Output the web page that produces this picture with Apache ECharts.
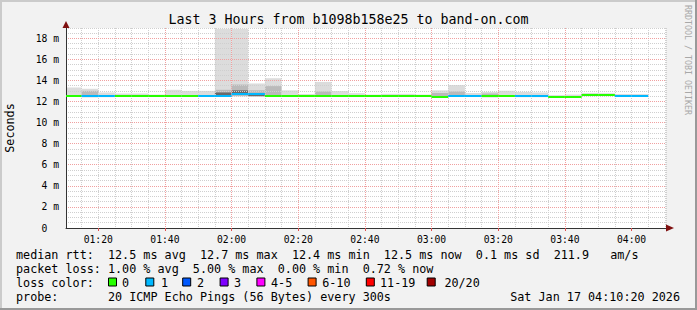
<!DOCTYPE html>
<html><head><meta charset="utf-8">
<script src="https://cdn.jsdelivr.net/npm/echarts@6/dist/echarts.min.js"></script>
<style>html,body{margin:0;padding:0;background:#f2f2f2;}#c{width:697px;height:310px;}</style>
</head><body><div id="c"></div>
<script>
// ---- data ----
const timeStart = '01:10:20';
const timeEnd = '04:10:20';
const stepMinutes = 5;
const stepEnds = ['01:15','01:20','01:25','01:30','01:35','01:40','01:45','01:50','01:55','02:00',
  '02:05','02:10','02:15','02:20','02:25','02:30','02:35','02:40','02:45','02:50',
  '02:55','03:00','03:05','03:10','03:15','03:20','03:25','03:30','03:35','03:40',
  '03:45','03:50','03:55','04:00','04:05'];
const medianMs = [12.55,12.5,12.5,12.55,12.55,12.55,12.55,12.55,12.55,12.55,
  12.7,12.75,12.55,12.55,12.55,12.55,12.55,12.55,12.55,12.55,
  12.55,12.55,12.45,12.55,12.55,12.5,12.55,12.5,12.5,12.45,
  12.45,12.6,12.6,12.55,12.55];
const lossPings = [0,1,1,0,0,0,0,0,1,1,
  1,1,0,0,0,0,0,0,0,0,
  0,0,0,1,1,0,0,1,1,0,
  0,0,0,1,1];
const smokeLo = [12.45,12.4,12.4,12.45,12.45,12.45,12.45,12.45,12.45,12.45,
  12.5,12.5,12.45,12.45,12.45,12.45,12.45,12.45,12.45,12.45,
  12.45,12.45,12.35,12.45,12.45,12.4,12.45,12.4,12.4,12.35,
  12.35,12.5,12.5,12.45,12.45];
const smokeHi = [13.32,13.2,12.85,12.75,12.75,12.65,13.1,13.0,13.0,18.9,
  18.9,13.7,14.2,13.05,12.7,13.85,12.98,12.78,12.65,12.72,
  12.72,12.65,13.05,13.55,12.8,12.9,13.0,12.9,12.85,12.6,
  12.65,12.8,12.78,12.7,12.7];
const midHi = [null,13.0,null,null,null,null,null,null,null,13.1,
  13.6,13.05,13.45,null,null,12.95,null,null,null,null,
  null,null,12.8,12.95,null,12.75,null,null,null,null,
  null,null,null,null,null];
const darkLo = [null,null,null,null,null,null,null,null,null,12.6,
  12.8,12.5,null,null,null,null,null,null,null,null,
  null,null,null,null,null,null,null,null,null,null,
  null,null,null,null,null];
const darkHi = [null,null,null,null,null,null,null,null,null,12.85,
  13.05,12.65,null,null,null,null,null,null,null,null,
  null,null,null,null,null,null,null,null,null,null,
  null,null,null,null,null];
const xTickLabels = ['01:20','01:40','02:00','02:20','02:40','03:00','03:20','03:40','04:00'];
const yMax = 18.96;
const lossBuckets = ['0','1','2','3','4-5','6-10','11-19','20/20'];
const lossBucketMax = [0,1,2,3,5,10,19,20];
const lossColors = ['#26ff00','#00b8ff','#0059ff','#7e00ff','#ff00ff','#ff5500','#ff0000','#a10000'];
const titleText = 'Last 3 Hours from b1098b158e25 to band-on.com';
const yAxisTitle = 'Seconds';
const lineRtt = 'median rtt:  12.5 ms avg  12.7 ms max  12.4 ms min  12.5 ms now  0.1 ms sd  211.9   am/s';
const lineLoss = 'packet loss: 1.00 % avg  5.00 % max  0.00 % min  0.72 % now';
const lineLossColor = 'loss color:';
const lineProbe = 'probe:       20 ICMP Echo Pings (56 Bytes) every 300s';
const dateText = 'Sat Jan 17 04:10:20 2026';
const watermark = 'RRDTOOL / TOBI OETIKER';

// ---- helpers ----
function toMin(s){ const p = s.split(':').map(Number); return p[0]*60 + p[1] + (p[2]||0)/60; }
function fmtMin(v){ const h = Math.floor(v/60 + 1e-6); const m = Math.round(v - h*60); return String(h).padStart(2,'0')+':'+String(m).padStart(2,'0'); }
function lossColor(n){ for (let i=0;i<lossBucketMax.length;i++){ if (n <= lossBucketMax[i]) return lossColors[i]; } return lossColors[lossColors.length-1]; }
const xMin = toMin(timeStart), xMax = toMin(timeEnd);
const FONT = '"DejaVu Sans Mono", monospace';

const smokeData = stepEnds.map((e,i)=>[toMin(e), smokeLo[i], smokeHi[i]]);
const medianData = stepEnds.map((e,i)=>[toMin(e), medianMs[i], lossPings[i]]);

function rectBetween(api, t0, t1, lo, hi, fill){
  const a = api.coord([t0, hi]); const b = api.coord([t1, lo]);
  return {type:'rect', shape:{x:a[0], y:a[1], width:b[0]-a[0], height:b[1]-a[1]}, style:{fill:fill}};
}

const chart = echarts.init(document.getElementById('c'), null, {renderer:'svg', width:697, height:310});

const legendGraphics = [];
const boxX = [108,145.3,182.2,219.6,256.4,307.6,365.8,426.7];
const labX = [122,161,197,234,271,322.2,380,444.4];
lossBuckets.forEach((lab,i)=>{
  legendGraphics.push({type:'rect', left:boxX[i], top:277.5, shape:{x:0,y:0,width:8,height:8}, style:{fill:lossColors[i], stroke:'#000', lineWidth:1}});
  legendGraphics.push({type:'text', x:labX[i], y:282.5, style:{text:lab, font:'11.75px '+FONT, fill:'#000', textVerticalAlign:'middle'}});
});

chart.setOption({
  backgroundColor:'#f2f2f2',
  animation:false,
  textStyle:{fontFamily:FONT},
  grid:{left:66, top:28, width:600, height:200, containLabel:false, outerBoundsMode:'none', show:true, backgroundColor:'#ffffff', borderWidth:0, z:0},
  xAxis:[
    {type:'value', min:xMin, max:xMax, splitNumber:9, z:3,
      axisLine:{show:true, onZero:false, lineStyle:{color:'#333333', width:1}},
      axisTick:{show:true, length:3, customValues:xTickLabels.map(toMin), lineStyle:{color:'#e05050'}},
      axisLabel:{customValues:xTickLabels.map(toMin), formatter:fmtMin, fontFamily:FONT, fontSize:9.7, color:'#000', margin:6},
      splitLine:{show:true, showMinLine:false, showMaxLine:false, lineStyle:{color:'#f0a0a0', width:1, type:[1,1]}}},
    {type:'value', min:xMin, max:xMax, splitNumber:36, z:2,
      axisLine:{show:false}, axisTick:{show:false}, axisLabel:{show:false},
      splitLine:{show:true, showMinLine:false, lineStyle:{color:'#cfcfcf', width:1, type:[1,1]}}}
  ],
  yAxis:[
    {type:'value', min:0, max:yMax, interval:2, z:3,
      name:yAxisTitle, nameLocation:'middle', nameGap:50,
      nameTextStyle:{fontFamily:FONT, fontSize:11.75, color:'#000'},
      axisLine:{show:true, onZero:false, lineStyle:{color:'#333333', width:1}},
      axisTick:{show:false},
      axisLabel:{formatter:v=> v===0 ? '0  ' : v+' m', fontFamily:FONT, fontSize:9.7, color:'#000', margin:7, showMaxLabel:false},
      splitLine:{show:true, showMinLine:false, showMaxLine:false, lineStyle:{color:'#f0a0a0', width:1, type:[1,1]}}},
    {type:'value', min:0, max:yMax, interval:0.5, z:2,
      axisLine:{show:false}, axisTick:{show:false}, axisLabel:{show:false},
      splitLine:{show:true, showMinLine:false, lineStyle:{color:'#cfcfcf', width:1, type:[1,1]}}}
  ],
  series:[
    {type:'custom', name:'smoke', xAxisIndex:0, yAxisIndex:0, z:1, silent:true,
      data:smokeData,
      renderItem:function(params, api){
        const i = params.dataIndex;
        const t1 = api.value(0); const t0 = Math.max(t1 - stepMinutes, xMin);
        const children = [rectBetween(api, t0, t1, api.value(1), api.value(2), '#dcdcdc')];
        if (midHi[i] != null) children.push(rectBetween(api, t0, t1, api.value(1), midHi[i], '#bababa'));
        if (darkHi[i] != null) children.push(rectBetween(api, t0, t1, darkLo[i], darkHi[i], '#6a6a6a'));
        return {type:'group', children:children};
      }},
    {type:'custom', name:'median', xAxisIndex:0, yAxisIndex:0, z:5, silent:true,
      data:medianData,
      renderItem:function(params, api){
        const t1 = api.value(0); const t0 = Math.max(t1 - stepMinutes, xMin);
        const a = api.coord([t0, api.value(1)]); const b = api.coord([t1, api.value(1)]);
        const y = Math.round(a[1]) - 1;
        return {type:'rect', shape:{x:a[0], y:y, width:b[0]-a[0], height:2}, style:{fill:lossColor(api.value(2))}};
      }}
  ],
  graphic:[
    {type:'rect', left:0, top:0, shape:{x:0,y:0,width:697,height:2}, style:{fill:'#cbcbcb'}, z:10},
    {type:'rect', left:0, top:0, shape:{x:0,y:0,width:2,height:310}, style:{fill:'#cbcbcb'}, z:10},
    {type:'rect', left:695, top:0, shape:{x:0,y:0,width:2,height:310}, style:{fill:'#999999'}, z:10},
    {type:'rect', left:0, top:308, shape:{x:0,y:0,width:697,height:2}, style:{fill:'#999999'}, z:10},
    {type:'polygon', shape:{points:[[666,224.5],[666,231.5],[674,228]]}, style:{fill:'#7f1010'}, z:10},
    {type:'polygon', shape:{points:[[62.5,28],[69.5,28],[66,21]]}, style:{fill:'#7f1010'}, z:10},
    {type:'text', x:348.5, y:19, style:{text:titleText, font:'13.3px '+FONT, fill:'#000', textAlign:'center', textVerticalAlign:'middle'}},
    {type:'text', x:688, y:5, rotation:-Math.PI/2, style:{text:watermark, font:'8.3px '+FONT, fill:'#a8a8a8', textAlign:'left', textVerticalAlign:'middle'}},
    {type:'text', x:16, y:254.5, style:{text:lineRtt, font:'11.75px '+FONT, fill:'#000', textVerticalAlign:'middle'}},
    {type:'text', x:16, y:268.5, style:{text:lineLoss, font:'11.75px '+FONT, fill:'#000', textVerticalAlign:'middle'}},
    {type:'text', x:16, y:282.5, style:{text:lineLossColor, font:'11.75px '+FONT, fill:'#000', textVerticalAlign:'middle'}},
    {type:'text', x:16, y:296.5, style:{text:lineProbe, font:'11.75px '+FONT, fill:'#000', textVerticalAlign:'middle'}},
    {type:'text', x:680, y:296.5, style:{text:dateText, font:'11.75px '+FONT, fill:'#000', textAlign:'right', textVerticalAlign:'middle'}}
  ].concat(legendGraphics)
});
</script></body></html>
